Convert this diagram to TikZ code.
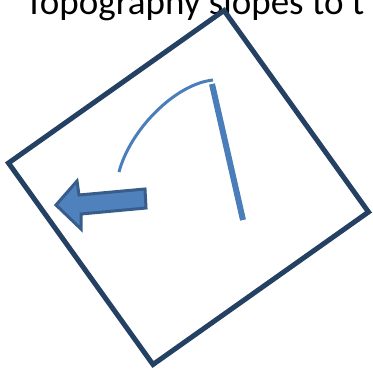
\documentclass[tikz,border=0pt]{standalone}
\usepackage{fontspec}
\setmainfont{Carlito}
\definecolor{boxnavy}{RGB}{36,64,98}
\definecolor{slopeblue}{RGB}{74,126,187}
\definecolor{arrowfill}{RGB}{79,129,189}
\definecolor{arrowedge}{RGB}{56,93,138}

\begin{document}
\begin{tikzpicture}[x=1pt,y=-1pt]
\useasboundingbox (0,0) rectangle (373,376);
\clip (0,0) rectangle (373,376);
\node[anchor=base west,inner sep=0,font=\fontsize{37}{44}\selectfont] (title) at (25,14) {Topography slopes to t};
\draw[boxnavy,line width=5pt,miter limit=10] (224,10.5)--(368.5,212)--(153,364.5)--(8.5,163)--cycle;
\draw[slopeblue,line width=3pt] (119,172) .. controls (130,130) and (175,84) .. (213,80);
\draw[slopeblue,line width=6pt] (212,84)--(243,220);
\draw[arrowedge,fill=arrowfill,line width=3pt,line join=miter] (56,205)--(77,181)--(79,195)--(145,189)--(146,208)--(81,214)--(81,229)--cycle;
\end{tikzpicture}
\end{document}
